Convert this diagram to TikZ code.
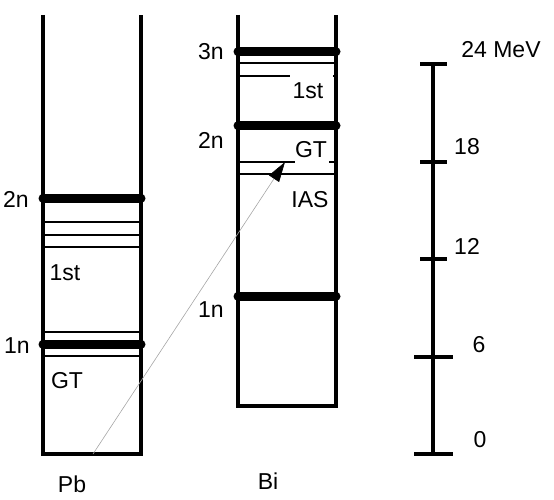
\documentclass[tikz,border=0pt]{standalone}
\usepackage{fontspec}
\setmainfont{Liberation Sans}
\usetikzlibrary{arrows.meta}
\begin{document}
\begin{tikzpicture}[x=1pt,y=-1pt,
  col/.style={line width=3.2pt},
  lvl/.style={line width=2.8pt},
  nlvl/.style={line width=9pt,line cap=round},
  lab/.style={inner sep=0pt,font=\fontsize{23}{27}\selectfont},
  tick/.style={line width=3.2pt}]
\useasboundingbox (0,0) rectangle (554,500);
% Pb column
\draw[col] (43,15) -- (43,454) -- (141,454) -- (141,15);
\draw[nlvl] (43,198) -- (141,198);
\draw[lvl] (43,222) -- (141,222);
\draw[lvl] (43,235) -- (141,235);
\draw[lvl] (43,247) -- (141,247);
\draw[lvl] (43,332) -- (141,332);
\draw[nlvl] (43,344) -- (141,344);
\draw[lvl] (43,356) -- (141,356);
\node[lab] (pb2n) at (16,199) {2n};
\node[lab] (pb1st) at (65,273) {1st};
\node[lab] (pb1n) at (17,346) {1n};
\node[lab] (pbgt) at (67,381) {GT};
\node[lab] (pb) at (72,484) {Pb};
% Bi column
\draw[col] (238,15) -- (238,406) -- (336,406) -- (336,15);
\draw[nlvl] (238,52) -- (336,52);
\draw[lvl] (238,63) -- (336,63);
\draw[lvl] (238,76) -- (290,76);
\draw[lvl] (333,76) -- (336,76);
\draw[nlvl] (238,126) -- (336,126);
\draw[lvl] (238,162) -- (295,162);
\draw[lvl] (329,162) -- (336,162);
\draw[lvl] (238,174) -- (336,174);
\draw[nlvl] (238,296) -- (336,296);
\node[lab] (bi3n) at (211,52) {3n};
\node[lab] (bi1st) at (308,91) {1st};
\node[lab] (bi2n) at (211,140) {2n};
\node[lab] (bigt) at (311,150) {GT};
\node[lab] (bias) at (310,200) {IAS};
\node[lab] (bi1n) at (211,310) {1n};
\node[lab] (bi) at (268,481) {Bi};
% transition arrow
\coordinate (a0) at (93,454);
\coordinate (a1) at (285,162);
\draw[gray!70,line width=0.6pt,-{Triangle[length=20pt,width=12pt,black]}] (a0) -- (a1);
% energy scale
\draw[tick] (433,64) -- (433,454);
\draw[tick] (420,64) -- (447,64);
\draw[tick] (420,162) -- (447,162);
\draw[tick] (420,259) -- (447,259);
\draw[tick] (414,357) -- (453,357);
\draw[tick] (414,454) -- (453,454);
\node[lab] (e24) at (501,50) {24 MeV};
\node[lab] (e18) at (467,147) {18};
\node[lab] (e12) at (467,246) {12};
\node[lab] (e6) at (479,345) {6};
\node[lab] (e0) at (480,440) {0};
\end{tikzpicture}
\end{document}
